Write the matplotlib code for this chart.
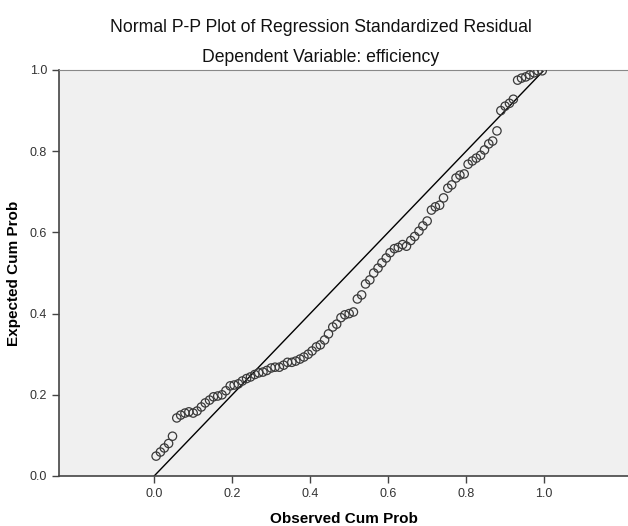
import matplotlib
matplotlib.use('Agg')
import matplotlib.pyplot as plt

# observed cumulative probability (x) and expected cumulative probability (y)
observed = [0.005, 0.016, 0.026, 0.037, 0.047,
	0.058, 0.068, 0.079, 0.089, 0.100, 0.110, 0.121, 0.131, 0.142, 0.152,
	0.163, 0.174, 0.184, 0.195, 0.205, 0.216, 0.226, 0.237, 0.247, 0.258,
	0.268, 0.279, 0.289, 0.300, 0.310, 0.321, 0.332, 0.342, 0.353, 0.363,
	0.374, 0.384, 0.395, 0.405, 0.416, 0.426, 0.437, 0.447, 0.458, 0.468,
	0.479, 0.489, 0.500, 0.511, 0.521, 0.532, 0.542, 0.553, 0.563, 0.574,
	0.584, 0.595, 0.605, 0.616, 0.626, 0.637, 0.647, 0.658, 0.668, 0.679,
	0.689, 0.700, 0.711, 0.721, 0.732, 0.742, 0.753, 0.763, 0.774, 0.784,
	0.795, 0.805, 0.816, 0.826, 0.837, 0.847, 0.858, 0.868, 0.879, 0.889,
	0.900, 0.911, 0.921, 0.932, 0.942, 0.953, 0.963, 0.974, 0.984, 0.995]
expected = [0.049, 0.059, 0.069, 0.080, 0.098,
	0.143, 0.150, 0.155, 0.158, 0.155, 0.160, 0.170, 0.180, 0.187, 0.195,
	0.197, 0.200, 0.210, 0.222, 0.224, 0.227, 0.234, 0.240, 0.244, 0.250,
	0.254, 0.256, 0.260, 0.266, 0.268, 0.268, 0.273, 0.280, 0.280, 0.283,
	0.288, 0.293, 0.300, 0.308, 0.318, 0.323, 0.335, 0.350, 0.367, 0.374,
	0.390, 0.397, 0.400, 0.404, 0.436, 0.446, 0.473, 0.483, 0.500, 0.512,
	0.525, 0.537, 0.550, 0.560, 0.563, 0.570, 0.566, 0.580, 0.590, 0.603,
	0.616, 0.628, 0.655, 0.663, 0.667, 0.685, 0.709, 0.717, 0.734, 0.741,
	0.744, 0.768, 0.776, 0.783, 0.790, 0.803, 0.818, 0.825, 0.850, 0.900,
	0.911, 0.918, 0.928, 0.975, 0.980, 0.983, 0.988, 0.993, 0.998, 0.998]
ticks = [0.0, 0.2, 0.4, 0.6, 0.8, 1.0]

plt.rcParams['font.family'] = ['Liberation Sans', 'DejaVu Sans']

fig = plt.figure(figsize=(6.28, 5.26), dpi=100)
ax = fig.add_axes([59/628, 50/526, 1 - 59/628, 406/526])
ax.set_facecolor('#f0f0f0')

ax.plot([0, 1], [0, 1], color='black', lw=1.0, zorder=2)
ax.scatter(observed, expected, s=36, facecolors='none', edgecolors='#3a3a3a',
	linewidths=0.9, zorder=3)

ax.set_xlim(-0.244, 1.215)
ax.set_ylim(0, 1.0)
ax.set_xticks(ticks)
ax.set_yticks(ticks)
ax.set_xticklabels(['%.1f' % t for t in ticks])
ax.set_yticklabels(['%.1f' % t for t in ticks])
ax.tick_params(direction='out', length=5, width=1, colors='#444444',
	labelsize=9, labelcolor='#333333')

for side in ['left', 'bottom']:
	ax.spines[side].set_color('#444444')
	ax.spines[side].set_linewidth(1.2)
ax.spines['top'].set_color('#888888')
ax.spines['right'].set_visible(False)

ax.set_xlabel('Observed Cum Prob', fontsize=11, fontweight='bold', labelpad=9)
ax.set_ylabel('Expected Cum Prob', fontsize=11, fontweight='bold', labelpad=6)

fig.text(321/628, 1 - 27/526, 'Normal P-P Plot of Regression Standardized Residual',
	ha='center', va='center', fontsize=12.7, color='#111111')
fig.text(321/628, 1 - 57/526, 'Dependent Variable: efficiency',
	ha='center', va='center', fontsize=12.7, color='#111111')

fig.savefig('out.png', dpi=100)
